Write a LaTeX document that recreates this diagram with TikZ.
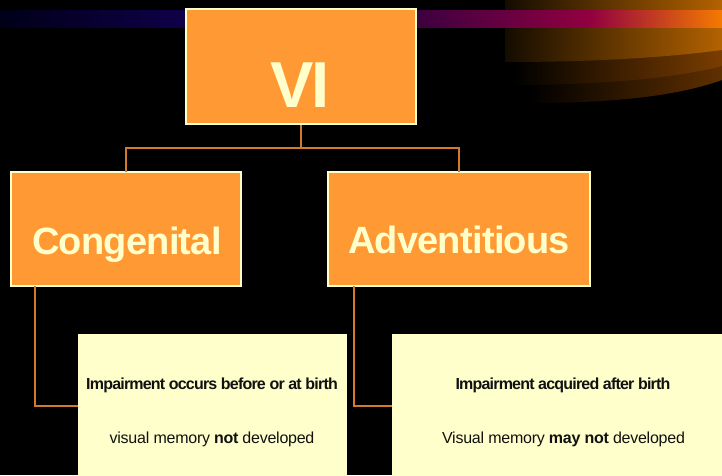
\documentclass[tikz,border=0pt]{standalone}
\usepackage{fontspec}
\setmainfont{Liberation Sans}
\usetikzlibrary{calc}

\definecolor{boxorange}{HTML}{FF9933}
\definecolor{cream}{HTML}{FFFFCC}
\definecolor{wire}{HTML}{D27A28}
\definecolor{inktext}{HTML}{111111}

\tikzset{
  catbox/.style={draw=cream, line width=1.6pt, fill=boxorange, inner sep=0pt},
  notebox/.style={fill=cream, draw=none, inner sep=0pt},
  wireline/.style={draw=wire, line width=2pt},
  headtext/.style={text=cream, anchor=base, inner sep=0pt,
    font=\fontsize{38}{40}\selectfont\bfseries\addfontfeatures{LetterSpace=-2}},
  titletext/.style={text=cream, anchor=base, inner sep=0pt,
    font=\fontsize{65}{66}\selectfont\bfseries\addfontfeatures{LetterSpace=-4}},
  boldnote/.style={text=inktext, anchor=base, inner sep=0pt,
    font=\fontsize{16}{18}\selectfont\bfseries\addfontfeatures{LetterSpace=-5}},
  plainnote/.style={text=inktext, anchor=base, inner sep=0pt,
    font=\fontsize{16}{18}\selectfont\addfontfeatures{LetterSpace=-1.5}},
}

\begin{document}
\begin{tikzpicture}[x=1pt, y=1pt]
\useasboundingbox (0,0) rectangle (722,475);
\clip (0,0) rectangle (722,475);
\fill[black] (0,0) rectangle (722,475);

% sweeping bands in the upper right corner, back to front
\shade[left color=black, right color={rgb,255:red,96;green,48;blue,0}]
  (530,475) -- (530,372) .. controls (620,372) and (680,380) .. (722,395) -- (722,475) -- cycle;
\shade[left color=black, right color={rgb,255:red,122;green,61;blue,0}]
  (513,475) -- (513,390) .. controls (610,390) and (680,398) .. (722,409) -- (722,475) -- cycle;
\shade[left color={rgb,255:red,20;green,12;blue,0}, right color={rgb,255:red,179;green,98;blue,0}]
  (505,475) -- (505,413) .. controls (600,413) and (670,418) .. (722,425) -- (722,475) -- cycle;

% coloured stripe across the top
\shade[left color={rgb,255:red,0;green,0;blue,24}, right color={rgb,255:red,16;green,0;blue,74}]
  (0,447) rectangle (190,464);
\shade[left color={rgb,255:red,58;green,0;blue,64}, right color={rgb,255:red,146;green,0;blue,64}]
  (412,447) rectangle (590,464);
\shade[left color={rgb,255:red,146;green,0;blue,64}, right color={rgb,255:red,245;green,122;blue,0}]
  (590,447) rectangle (722,464);

% category boxes
\node[catbox, minimum width=230pt, minimum height=115pt] (vi) at (301,408.5) {};
\node[catbox, minimum width=230pt, minimum height=114pt] (cong) at (126,246) {};
\node[catbox, minimum width=262pt, minimum height=114pt] (adv) at (459,246) {};

\node[titletext] (vititle) at (300,367) {VI};
\node[headtext] (congtitle) at (127,221) {Congenital};
\node[headtext] (advtitle) at (459,222) {Adventitious};

% description boxes
\node[notebox, minimum width=269pt, minimum height=151pt] (note1) at (212.5,65.5) {};
\node[notebox, minimum width=342pt, minimum height=151pt] (note2) at (563,65.5) {};

\node[boldnote] (n1a) at (212,86) {Impairment occurs before or at birth};
\node[plainnote] (n1b) at (212,32) {visual memory \textbf{not} developed};
\node[boldnote] (n2a) at (563,86) {Impairment acquired after birth};
\node[plainnote] (n2b) at (563.5,32) {Visual memory \textbf{may not} developed};

% connectors
\coordinate (branch) at (301,327);
\draw[wireline] (vi.south) -- (branch);
\draw[wireline] (branch) -| ($(cong.north)+(0,-0.8)$);
\draw[wireline] (branch) -| ($(adv.north)+(0,-0.8)$);

\coordinate (c1) at (35,69);
\coordinate (c2) at (354,69);
\draw[wireline] ($(cong.south -| c1)+(0,0.8)$) -- (c1) -- (c1 -| note1.west);
\draw[wireline] ($(adv.south -| c2)+(0,0.8)$) -- (c2) -- (c2 -| note2.west);
\end{tikzpicture}
\end{document}
